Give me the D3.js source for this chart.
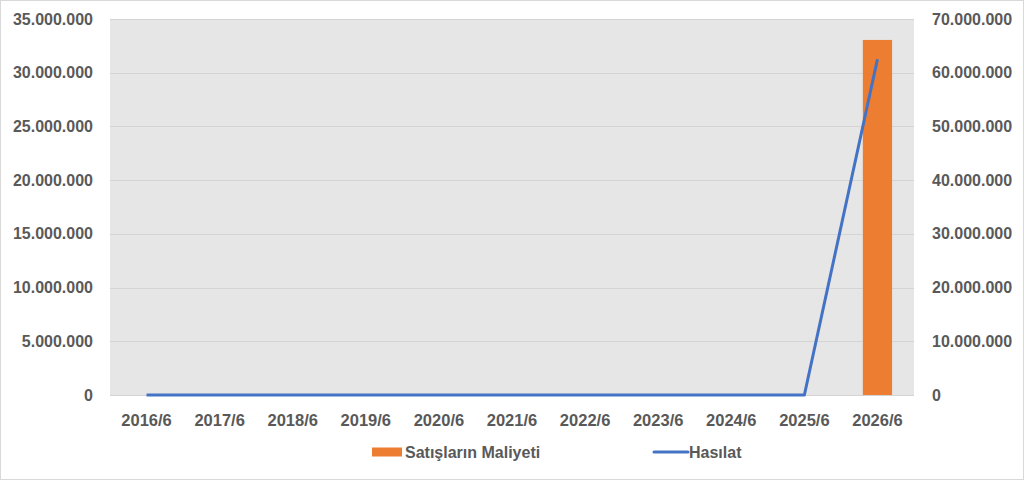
<!DOCTYPE html>
<html>
<head>
<meta charset="utf-8">
<script src="https://cdn.jsdelivr.net/npm/d3@7"></script>
<style>
	body { margin: 0; background: #fff; }
	svg { display: block; font-family: 'Liberation Sans', Arial, sans-serif; }
	.axis text { fill: #595959; font-size: 16px; font-weight: bold; }
	.x.axis text { font-size: 16.5px; }
	.legend text { fill: #595959; font-size: 16px; font-weight: bold; }
</style>
</head>
<body>
<div id="chart"></div>
<script>
	const periods = ['2016/6', '2017/6', '2018/6', '2019/6', '2020/6', '2021/6', '2022/6', '2023/6', '2024/6', '2025/6', '2026/6'];
	const costOfSales = [0, 0, 0, 0, 0, 0, 0, 0, 0, 0, 33050000];
	const revenue = [0, 0, 0, 0, 0, 0, 0, 0, 0, 0, 62500000];
	const leftTicks = [0, 5e6, 10e6, 15e6, 20e6, 25e6, 30e6, 35e6];
	const rightTicks = [0, 10e6, 20e6, 30e6, 40e6, 50e6, 60e6, 70e6];
	const seriesNames = ['Satışların Maliyeti', 'Hasılat'];

	const totalW = 1024;
	const totalH = 481;
	const margin = { top: 19, right: 110, bottom: 86, left: 110 };
	const width = totalW - margin.left - margin.right;
	const height = totalH - margin.top - margin.bottom;

	const fmt = v => d3.format(',')(v).replace(/,/g, '.');

	const svg = d3.select('#chart').append('svg')
		.attr('width', totalW)
		.attr('height', totalH);

	// outer frame
	svg.append('rect')
		.attr('x', 0.5).attr('y', 0.5)
		.attr('width', totalW - 1).attr('height', totalH - 2)
		.attr('fill', '#fff')
		.attr('stroke', '#d9d9d9');

	const chart = svg.append('g')
		.attr('transform', `translate(${margin.left}, ${margin.top})`);

	const x = d3.scaleBand()
		.domain(periods)
		.range([0, width]);
	const yL = d3.scaleLinear().domain([0, 35e6]).range([height, 0]);
	const yR = d3.scaleLinear().domain([0, 70e6]).range([height, 0]);

	chart.append('rect')
		.attr('width', width)
		.attr('height', height)
		.attr('fill', '#e6e6e6');

	// gridlines
	chart.selectAll('.grid')
		.data(leftTicks)
		.enter().append('line')
			.attr('class', 'grid')
			.attr('x1', 0).attr('x2', width)
			.attr('y1', d => Math.round(yL(d)) + 0.5)
			.attr('y2', d => Math.round(yL(d)) + 0.5)
			.attr('stroke', '#d4d4d4')
			.attr('stroke-width', 1);

	// bars
	const barW = x.bandwidth() * 0.4;
	chart.selectAll('.bar')
		.data(periods.map((p, i) => ({ p, v: costOfSales[i] })))
		.enter().append('rect')
			.attr('class', 'bar')
			.attr('x', d => x(d.p) + (x.bandwidth() - barW) / 2)
			.attr('width', barW)
			.attr('y', d => yL(d.v))
			.attr('height', d => height - yL(d.v))
			.attr('fill', '#ed7d31');

	// line
	const line = d3.line()
		.x((d, i) => x(periods[i]) + x.bandwidth() / 2)
		.y(d => yR(d));
	chart.append('path')
		.datum(revenue)
		.attr('d', line)
		.attr('fill', 'none')
		.attr('stroke', '#4472c4')
		.attr('stroke-width', 3)
		.attr('stroke-linejoin', 'round');

	// axes
	const xAxis = d3.axisBottom(x).tickSize(0).tickPadding(19);
	const yAxisL = d3.axisLeft(yL).tickValues(leftTicks).tickFormat(fmt).tickSize(0).tickPadding(17);
	const yAxisR = d3.axisRight(yR).tickValues(rightTicks).tickFormat(fmt).tickSize(0).tickPadding(18);

	chart.append('g').attr('class', 'x axis')
		.attr('transform', `translate(0, ${height})`)
		.call(xAxis);
	chart.append('g').attr('class', 'y axis')
		.call(yAxisL);
	chart.append('g').attr('class', 'y2 axis')
		.attr('transform', `translate(${width}, 0)`)
		.call(yAxisR);
	chart.selectAll('.axis .domain').remove();

	// legend
	const legend = svg.append('g').attr('class', 'legend')
		.attr('transform', 'translate(0, 452)');
	legend.append('rect')
		.attr('x', 372).attr('y', -4.5)
		.attr('width', 30).attr('height', 9)
		.attr('fill', '#ed7d31');
	legend.append('text')
		.attr('x', 405).attr('dy', '0.35em')
		.text(seriesNames[0]);
	legend.append('line')
		.attr('x1', 654).attr('x2', 688)
		.attr('stroke', '#4472c4').attr('stroke-width', 3)
		.attr('stroke-linecap', 'round');
	legend.append('text')
		.attr('x', 689).attr('dy', '0.35em')
		.text(seriesNames[1]);
</script>
</body>
</html>
